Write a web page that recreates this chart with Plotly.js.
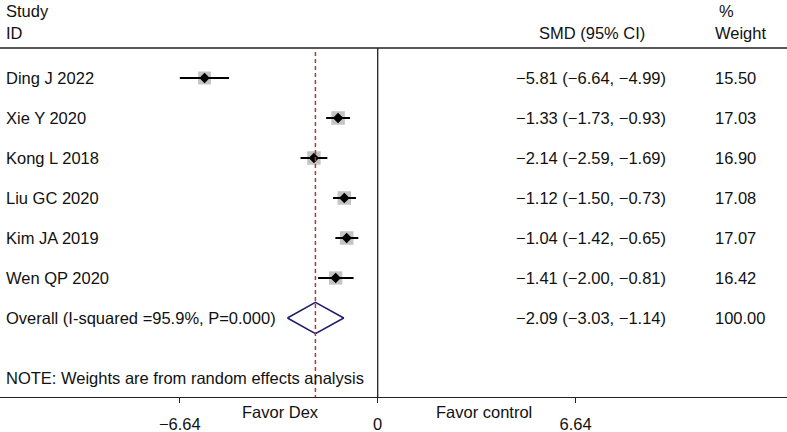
<!DOCTYPE html>
<html>
<head>
<meta charset="utf-8">
<script src="https://cdn.plot.ly/plotly-3.0.1.min.js"></script>
<style>html,body{margin:0;padding:0;background:#fff;}#chart{width:787px;height:432px;}</style>
</head>
<body>
<div id="chart"></div>
<script>
// ---- data ----
const studies = ["Ding J 2022", "Xie Y 2020", "Kong L 2018", "Liu GC 2020", "Kim JA 2019", "Wen QP 2020"];
const smd     = [-5.81, -1.33, -2.14, -1.12, -1.04, -1.41];
const ciLower = [-6.64, -1.73, -2.59, -1.50, -1.42, -2.00];
const ciUpper = [-4.99, -0.93, -1.69, -0.73, -0.65, -0.81];
const weights = [15.50, 17.03, 16.90, 17.08, 17.07, 16.42];

const overallLabel  = "Overall (I-squared =95.9%, P=0.000)";
const overallSmd    = -2.09;
const overallLower  = -3.03;
const overallUpper  = -1.14;
const overallWeight = 100.00;

const tickVals = [-6.64, 0, 6.64];
const tickText = ["\u22126.64", "0", "6.64"];
const noteText = "NOTE: Weights are from random effects analysis";
const leftLabel = "Favor Dex";
const rightLabel = "Favor control";

// ---- layout helpers ----
const W = 787, H = 432, PLOT_H = 397;
const px = x => x / W;                 // pixel -> paper x
const py = y => 1 - y / PLOT_H;        // pixel -> paper y
const fmt = v => (v < 0 ? "\u2212" : "") + Math.abs(v).toFixed(2);
const FONT = "Liberation Sans, Arial, Helvetica, sans-serif";
const FS = 16.5;

const rows = studies.map((_, i) => i + 1);
const overallRow = studies.length + 1;

// CI lines
const ciX = [], ciY = [];
studies.forEach((_, i) => { ciX.push(ciLower[i], ciUpper[i], null); ciY.push(rows[i], rows[i], null); });

const h = 0.39;
const traces = [
  { type: "scatter", mode: "markers", x: smd, y: rows,
    marker: { symbol: "square", color: "#ababab", size: weights.map(w => 13.5 * Math.sqrt(w / 17)), line: { width: 0 } } },
  { type: "scatter", mode: "lines", x: ciX, y: ciY, line: { color: "#000", width: 2 } },
  { type: "scatter", mode: "markers", x: smd, y: rows,
    marker: { symbol: "diamond", color: "#000", size: 8 } },
  { type: "scatter", mode: "lines",
    x: [overallLower, overallSmd, overallUpper, overallSmd, overallLower],
    y: [overallRow, overallRow - h, overallRow, overallRow + h, overallRow],
    line: { color: "#1d1d6b", width: 1.5 } }
];

const ann = [];
function txt(text, x, y, anchor, yref) {
  ann.push({ text, x: px(x), xref: "paper", y, yref: yref || "y", xanchor: anchor, yanchor: "middle",
    showarrow: false, font: { family: FONT, size: FS, color: "#111" } });
}
txt("Study", 4, py(11), "left", "paper");
txt("ID", 4, py(33), "left", "paper");
txt("SMD (95% CI)", 647, py(33), "right", "paper");
txt("%", 717, py(11), "left", "paper");
txt("Weight", 713, py(33), "left", "paper");
studies.forEach((s, i) => {
  txt(s, 4, rows[i], "left");
  txt(`${fmt(smd[i])} (${fmt(ciLower[i])}, ${fmt(ciUpper[i])})`, 668, rows[i], "right");
  txt(weights[i].toFixed(2), 713, rows[i], "left");
});
txt(overallLabel, 4, overallRow, "left");
txt(`${fmt(overallSmd)} (${fmt(overallLower)}, ${fmt(overallUpper)})`, 668, overallRow, "right");
txt(overallWeight.toFixed(2), 713, overallRow, "left");
txt(noteText, 4, py(378), "left", "paper");
txt(leftLabel, 280, py(412), "center", "paper");
txt(rightLabel, 484, py(412), "center", "paper");

// x range so that plot area spans the full width with 0 at x=377.7 and 29.8 px per unit
const pxPerUnit = 29.8, zeroPx = 377.7;
const xRange = [-zeroPx / pxPerUnit, (W - zeroPx) / pxPerUnit];
const yTop = 1 - 78 / 40, yBottom = 1 + (PLOT_H - 78) / 40;
const yLine = 1 + (48 - 78) / 40;

const layout = {
  width: W, height: H,
  margin: { l: 0, r: 0, t: 0, b: H - PLOT_H, pad: 0 },
  paper_bgcolor: "#fff", plot_bgcolor: "#fff",
  showlegend: false, hovermode: false,
  font: { family: FONT, size: FS, color: "#111" },
  xaxis: { range: xRange, showgrid: false, zeroline: false, showline: true, linecolor: "#222", linewidth: 1.3,
    ticks: "outside", ticklen: 5, tickwidth: 1.2, tickcolor: "#222",
    tickvals: tickVals, ticktext: tickText, ticklabelstandoff: 7,
    tickfont: { family: FONT, size: FS, color: "#111" }, fixedrange: true },
  yaxis: { range: [yBottom, yTop], visible: false, showgrid: false, zeroline: false, fixedrange: true },
  shapes: [
    { type: "line", xref: "paper", x0: 0, x1: 1, yref: "y", y0: yLine, y1: yLine, line: { color: "#222", width: 1.3 } },
    { type: "line", xref: "x", x0: 0, x1: 0, yref: "y", y0: yLine, y1: yBottom, line: { color: "#222", width: 1.3 } },
    { type: "line", xref: "x", x0: overallSmd, x1: overallSmd, yref: "y", y0: yLine + 0.1, y1: yBottom,
      line: { color: "#b03a3a", width: 1.5, dash: "4px,3px" } }
  ],
  annotations: ann
};

Plotly.newPlot("chart", traces, layout, { staticPlot: true, displayModeBar: false });
</script>
</body>
</html>
